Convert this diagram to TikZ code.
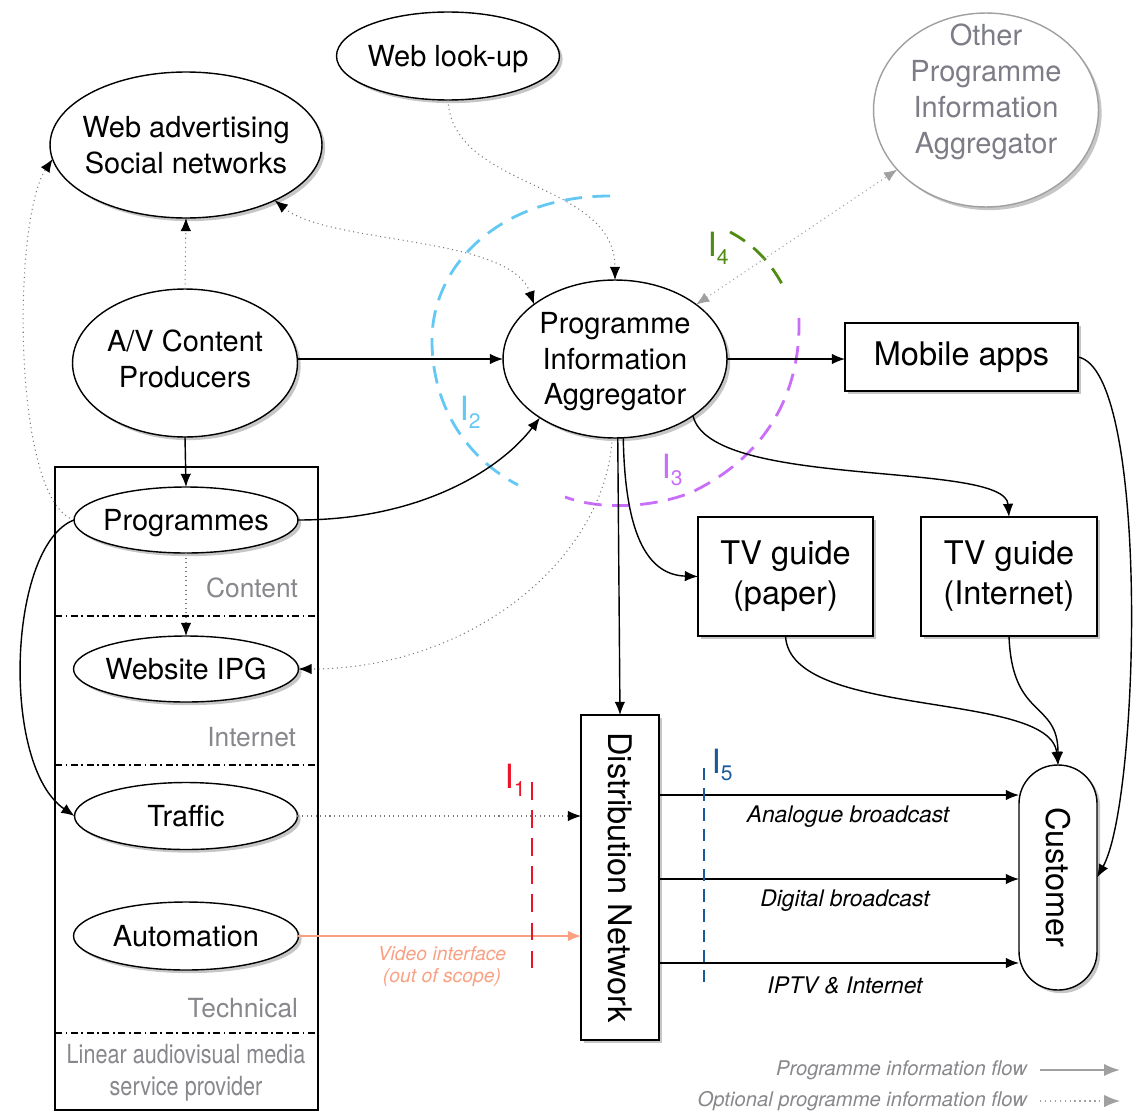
\documentclass[tikz,border=0pt]{standalone}
\usepackage{fontspec}
\setmainfont{TeX Gyre Heros}
\usetikzlibrary{shapes.geometric,arrows.meta,shadows,calc}
\definecolor{dotgray}{RGB}{120,120,120}
\definecolor{lblgray}{RGB}{135,135,140}
\definecolor{othergray}{RGB}{125,125,135}
\definecolor{tipgray}{RGB}{160,160,160}
\definecolor{salmon}{RGB}{250,160,130}
\definecolor{ired}{RGB}{235,20,40}
\definecolor{iblueL}{RGB}{100,200,245}
\definecolor{iviolet}{RGB}{200,110,250}
\definecolor{igreen}{RGB}{80,140,20}
\definecolor{iblueD}{RGB}{25,90,155}
\newcommand{\ifclabel}[1]{\fontsize{19}{19}\selectfont I\raisebox{-0.45ex}{\fontsize{12}{12}\selectfont #1}}
\newcommand{\ztext}[2][-6pt]{\makebox[0pt]{\smash{\raisebox{#1}{\begin{tabular}{@{}c@{}}#2\end{tabular}}}}}
\begin{document}
\begin{tikzpicture}[x=0.02cm,y=0.02cm,
  every node/.style={inner sep=0pt,outer sep=0pt},
  sh/.style={drop shadow={shadow xshift=1.8pt,shadow yshift=-1.8pt,opacity=0.45}},
  ell/.style={ellipse,draw,line width=0.8pt,fill=white,sh,align=center,font=\fontsize{16.5}{20.4}\selectfont},
  boxn/.style={rectangle,draw,line width=0.8pt,fill=white,sh,align=center,font=\fontsize{18.5}{22.7}\selectfont},
  tipk/.tip={Latex[length=7.5pt,width=6pt,color=black]},
  tipg/.tip={Latex[length=7.5pt,width=6pt,color=tipgray]},
  flow/.style={-tipk,line width=0.8pt},
  opt/.style={line width=0.6pt,dotted,draw=dotgray},
  lbl/.style={text=lblgray,font=\fontsize{15}{18}\selectfont},
  blbl/.style={font=\fontsize{13}{15}\selectfont\itshape},
  leg/.style={text=lblgray,font=\fontsize{11.5}{13}\selectfont\itshape},
  ifcline/.style={line width=1.6pt,dash pattern=on 10pt off 6pt},
  ifcshort/.style={line width=1.3pt,dash pattern=on 7pt off 4.5pt}
]
\path[use as bounding box] (0,0) rectangle (1139,-1112);

% provider frame
\node[draw,line width=0.7pt,minimum width=5.26cm,minimum height=12.86cm] (provider) at (186.5,-788.5) {};
\draw[line width=0.6pt,dash pattern=on 4pt off 2pt on 1pt off 2pt] (55,-616) -- (318,-616);
\draw[line width=0.6pt,dash pattern=on 4pt off 2pt on 1pt off 2pt] (55,-765) -- (318,-765);
\draw[line width=0.6pt,dash pattern=on 4pt off 2pt on 1pt off 2pt] (55,-1033) -- (318,-1033);
\node[lbl,anchor=east] (lcontent) at (298,-588) {Content};
\node[lbl,anchor=east] (linternet) at (296,-737) {Internet};
\node[lbl,anchor=east] (ltechnical) at (298,-1008) {Technical};
\node[lbl,align=center] (lprovider) at (186,-1073) {\scalebox{0.82}[1]{Linear audiovisual media}\\\scalebox{0.82}[1]{service provider}};

% interface markers
\draw[ifcline,iblueL] (610,-196) .. controls (500,-196) and (432,-265) .. (432,-340) .. controls (432,-410) and (470,-460) .. (518,-485);
\node[text=iblueL] (i2) at (470,-412) {\ifclabel{2}};
\draw[ifcline,iviolet] (799,-318) .. controls (801,-400) and (760,-460) .. (690,-493) .. controls (650,-508) and (600,-510) .. (565,-497);
\node[text=iviolet] (i3) at (672,-470) {\ifclabel{3}};
\draw[ifcline,igreen] (730,-232) .. controls (755,-245) and (773,-265) .. (785,-290);
\node[text=igreen] (i4) at (718,-248) {\ifclabel{4}};

% nodes
\node[ell,minimum width=4.46cm,minimum height=1.76cm] (weblookup) at (448,-56) {\ztext{Web look-up}};
\node[ell,minimum width=5.44cm,minimum height=2.92cm] (webadv) at (186,-145) {\ztext{Web advertising\\Social networks}};
\node[ell,draw=tipgray,text=othergray,minimum width=4.5cm,minimum height=3.88cm] (otherpia) at (986,-110) {\ztext[5.6pt]{Other\\Programme\\Information\\Aggregator}};
\node[ell,minimum width=4.48cm,minimum height=3.16cm] (pia) at (615,-359) {\ztext{Programme\\Information\\Aggregator}};
\node[ell,minimum width=4.5cm,minimum height=2.96cm] (avcp) at (185,-363) {\ztext[-3.7pt]{A/V Content\\Producers}};
\node[boxn,minimum width=4.66cm,minimum height=1.36cm] (mobile) at (961.5,-357) {Mobile apps};
\node[boxn,minimum width=3.5cm,minimum height=2.38cm] (tvpaper) at (785.5,-576.5) {TV guide\\(paper)};
\node[boxn,minimum width=3.52cm,minimum height=2.38cm] (tvnet) at (1009,-576.5) {TV guide\\(Internet)};
\node[boxn,minimum width=1.56cm,minimum height=6.5cm] (dist) at (620,-877.5) {\rotatebox{-90}{Distribution Network}};
\node[boxn,rounded corners=0.77cm,minimum width=1.56cm,minimum height=4.5cm] (customer) at (1058,-877.5) {\rotatebox{-90}{Customer}};
\node[ell,minimum width=4.48cm,minimum height=1.32cm] (programmes) at (186,-520) {\ztext{Programmes}};
\node[ell,minimum width=4.5cm,minimum height=1.32cm] (ipg) at (186,-669) {\ztext{Website IPG}};
\node[ell,minimum width=4.46cm,minimum height=1.34cm] (traffic) at (186,-816) {\ztext{Traffic}};
\node[ell,minimum width=4.5cm,minimum height=1.36cm] (automation) at (186,-936) {\ztext{Automation}};

% connectors
\draw[flow] (avcp.east |- pia.west) -- (pia.west);
\draw[flow] (avcp.south) -- (programmes.north);
\draw[opt,-tipk] (avcp.north) -- (webadv.south);
\draw[flow] (programmes.east) .. controls (420,-520) and (500,-470) .. (pia.218);
\draw[opt,-tipk] (programmes.west) .. controls (12,-500) and (12,-220) .. (webadv.186);
\draw[flow] (programmes.west) .. controls (8,-545) and (0,-765) .. (traffic.west);
\draw[opt,-tipk] (programmes.south) -- (ipg.north);
\draw[opt,-tipk] (pia.-92) .. controls (605,-560) and (470,-669) .. (ipg.east);
\draw[opt,tipk-tipk] (webadv.-32) .. controls (330,-245) and (510,-235) .. (pia.146);
\draw[opt,-tipk] (weblookup.south) .. controls (452,-190) and (615,-180) .. (pia.north);
\draw[opt,draw=tipgray,tipg-tipg] (pia) -- (otherpia);
\draw[flow] (pia.east) -- (pia.east -| mobile.west);
\draw[flow] (pia.-36) .. controls (710,-490) and (1005,-460) .. (tvnet.north);
\draw[flow] (pia.-84) .. controls (625,-540) and (650,-575) .. (tvpaper.west);
\draw[flow] (pia.-88) -- (dist.north);
\draw[flow] (tvpaper.south) .. controls (790,-720) and (1050,-690) .. (customer.north);
\draw[flow] (tvnet.south) .. controls (1012,-720) and (1058,-700) .. (customer.north);
\draw[flow] (mobile.east) .. controls (1150,-370) and (1140,-800) .. (customer.east);
\draw[opt,-tipk] (traffic.east) -- (traffic.east -| dist.west);
\draw[line width=0.7pt,salmon,-{Latex[length=7.5pt,width=6pt]}] (automation.east) -- (automation.east -| dist.west);
\node[text=salmon,align=center,font=\fontsize{11}{12.5}\selectfont\itshape] (video) at (442,-966) {Video interface\\(out of scope)};

\draw[flow] ([yshift=1.65cm]dist.east) -- ([yshift=1.65cm]customer.west);
\draw[flow] ([yshift=-0.03cm]dist.east) -- ([yshift=-0.03cm]customer.west);
\draw[flow] ([yshift=-1.71cm]dist.east) -- ([yshift=-1.71cm]customer.west);
\node[blbl] (lanalogue) at (848,-817) {Analogue broadcast};
\node[blbl] (ldigital) at (845,-901) {Digital broadcast};
\node[blbl] (liptv) at (845,-985) {IPTV \& Internet};

\draw[ifcline,ired] (532,-782) -- (532,-970);
\node[text=ired] (i1) at (515,-780) {\ifclabel{1}};
\draw[ifcshort,iblueD] (704,-768) -- (704,-985);
\node[text=iblueD] (i5) at (722,-765) {\ifclabel{5}};

% legend
\coordinate (l1s) at (1040,-1070); \coordinate (l1e) at (1120,-1070);
\coordinate (l2s) at (1040,-1101); \coordinate (l2e) at (1120,-1101);
\draw[line width=1.2pt,tipgray,-{Latex[length=9pt,width=7pt]}] (l1s) -- (l1e);
\draw[line width=0.8pt,dotted,tipgray,-{Latex[length=9pt,width=7pt]}] (l2s) -- (l2e);
\node[leg,anchor=east] (leg1) at (1027,-1070) {Programme information flow};
\node[leg,anchor=east] (leg2) at (1027,-1101) {Optional programme information flow};
\end{tikzpicture}
\end{document}
